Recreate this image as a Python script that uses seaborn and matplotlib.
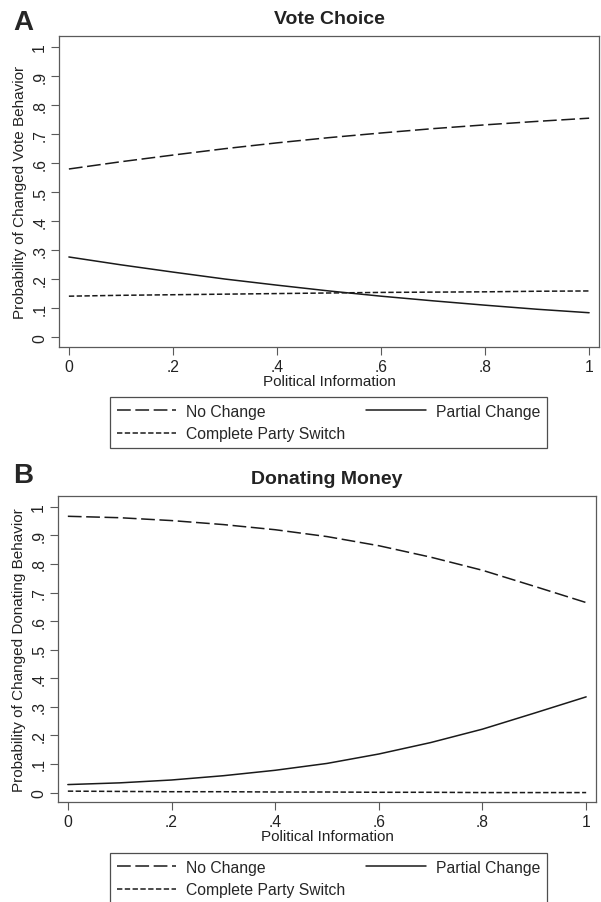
"""Predicted probabilities of changed political behaviour by political information.

Two stacked panels (vote choice, donating money), Stata-like styling.
Writes out.png.
"""

import pandas as pd
import matplotlib
matplotlib.use('Agg')
import matplotlib.pyplot as plt
import seaborn as sns

# x grid (political information, 0-1)
info = [0.0, 0.1, 0.2, 0.3, 0.4, 0.5, 0.6, 0.7, 0.8, 0.9, 1.0]

# Panel A: vote choice
vote_no_change = [0.580, 0.605, 0.628, 0.650, 0.670, 0.688, 0.704, 0.719, 0.732, 0.744, 0.755]
vote_partial = [0.277, 0.250, 0.225, 0.201, 0.180, 0.160, 0.142, 0.126, 0.111, 0.097, 0.085]
vote_complete = [0.142, 0.145, 0.147, 0.149, 0.151, 0.153, 0.155, 0.156, 0.157, 0.159, 0.160]

# Panel B: donating money
donate_no_change = [0.967, 0.962, 0.952, 0.938, 0.920, 0.896, 0.864, 0.824, 0.778, 0.722, 0.665]
donate_partial = [0.028, 0.034, 0.044, 0.059, 0.078, 0.102, 0.135, 0.175, 0.222, 0.278, 0.335]
donate_complete = [0.005, 0.004, 0.003, 0.003, 0.002, 0.002, 0.001, 0.001, 0.000, 0.000, 0.000]

outcomes = ['No Change', 'Partial Change', 'Complete Party Switch']
# legend fills column by column: this order puts No Change / Partial Change on row 1
legend_order = ['No Change', 'Complete Party Switch', 'Partial Change']
y_ticks = [0, .1, .2, .3, .4, .5, .6, .7, .8, .9, 1]
y_tick_labels = ['0', '.1', '.2', '.3', '.4', '.5', '.6', '.7', '.8', '.9', '1']
x_ticks = [0, .2, .4, .6, .8, 1]
x_tick_labels = ['0', '.2', '.4', '.6', '.8', '1']

LINE = '#1a1a1a'
FRAME = '#5a5a5a'
DASHES = {'No Change': (9, 3), 'Partial Change': '', 'Complete Party Switch': (3.5, 1.6)}


def long_form(no_change, partial, complete):
    frames = []
    for name, vals in zip(outcomes, [no_change, partial, complete]):
        frames.append(pd.DataFrame({'info': info, 'prob': vals, 'outcome': name}))
    return pd.concat(frames, ignore_index=True)


def draw_panel(fig, rect, data, title, ylabel, letter, letter_y, legend_top):
    ax = fig.add_axes(rect)
    sns.lineplot(data=data, x='info', y='prob', hue='outcome', style='outcome',
                 palette={k: LINE for k in outcomes}, dashes=DASHES,
                 hue_order=outcomes, style_order=outcomes,
                 linewidth=1.1, legend=False, ax=ax)

    ax.set_xlim(-0.019, 1.019)
    ax.set_ylim(-0.033, 1.038)
    ax.set_xticks(x_ticks)
    ax.set_xticklabels(x_tick_labels)
    ax.set_yticks(y_ticks)
    ax.set_yticklabels(y_tick_labels, rotation=90, va='center', ha='right')
    ax.tick_params(axis='both', direction='out', length=5.5, width=0.8, color=FRAME,
                   labelsize=11.3, labelcolor='#222222', pad=3,
                   bottom=True, left=True, top=False, right=False)
    for s in ax.spines.values():
        s.set_visible(True)
        s.set_color(FRAME)
        s.set_linewidth(0.9)

    ax.set_xlabel('Political Information', fontsize=11, labelpad=0, color='#222222')
    ax.set_ylabel(ylabel, fontsize=11, labelpad=4, color='#222222')
    ax.set_title(title, fontsize=14, fontweight='bold', pad=9, color='#222222')
    fig.text(13 / 601, letter_y, letter, fontsize=20, fontweight='bold',
             va='center', ha='left')

    handles = [plt.Line2D([], [], color=LINE, linewidth=1.1,
                          dashes=DASHES[k] if DASHES[k] else (None, None))
               for k in legend_order]
    leg = fig.legend(handles, legend_order, ncol=2, loc='upper left',
                     bbox_to_anchor=(110 / 601, legend_top),
                     bbox_transform=fig.transFigure, frameon=True, fancybox=False,
                     fontsize=11.3, handlelength=3.8, handletextpad=0.65,
                     columnspacing=1.3, labelspacing=0.5, borderpad=0.42,
                     borderaxespad=0)
    leg.get_frame().set_edgecolor('#222222')
    leg.get_frame().set_linewidth(0.9)
    return ax


def main():
    sns.set_theme(style='ticks')
    plt.rcParams['font.family'] = ['Liberation Sans', 'DejaVu Sans']

    fig = plt.figure(figsize=(6.01, 9.03), dpi=100)

    vote = long_form(vote_no_change, vote_partial, vote_complete)
    donate = long_form(donate_no_change, donate_partial, donate_complete)

    draw_panel(fig, [59 / 601, 1 - 348 / 903, 540 / 601, 311 / 903], vote,
               'Vote Choice', 'Probability of Changed Vote Behavior', 'A',
               1 - 23 / 903, 1 - 398 / 903)
    draw_panel(fig, [58 / 601, 1 - 803 / 903, 538 / 601, 306 / 903], donate,
               'Donating Money', 'Probability of Changed Donating Behavior', 'B',
               1 - 476 / 903, 1 - 854 / 903)

    fig.savefig('out.png', dpi=100)


if __name__ == '__main__':
    main()
